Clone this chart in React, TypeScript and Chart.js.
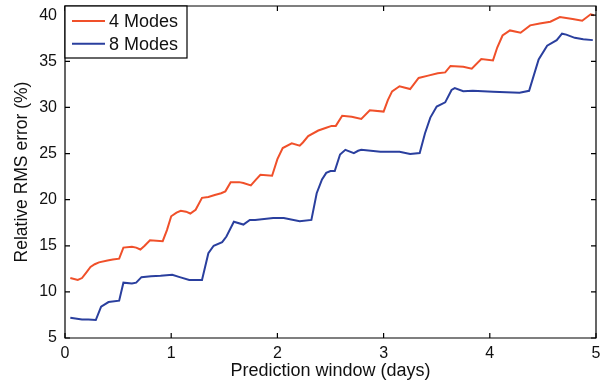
import React, { useEffect, useRef } from "react";
import { Chart, registerables } from "chart.js";

Chart.register(...registerables);

const seriesLabels = ["4 Modes", "8 Modes"];

const days4 = [0.05, 0.12, 0.16, 0.2, 0.24, 0.28, 0.32, 0.4, 0.45, 0.51, 0.55, 0.63, 0.67, 0.71, 0.75, 0.8, 0.92, 0.96, 1.0, 1.05, 1.09, 1.14, 1.18, 1.23, 1.29, 1.35, 1.41, 1.47, 1.51, 1.56, 1.64, 1.68, 1.75, 1.8, 1.84, 1.95, 2.0, 2.05, 2.135, 2.21, 2.24, 2.29, 2.385, 2.46, 2.51, 2.55, 2.61, 2.7, 2.79, 2.87, 3.0, 3.04, 3.08, 3.15, 3.25, 3.33, 3.42, 3.51, 3.58, 3.63, 3.75, 3.83, 3.92, 4.03, 4.07, 4.12, 4.19, 4.29, 4.38, 4.47, 4.57, 4.66, 4.78, 4.87, 4.95, 4.98];
const err4 = [11.5, 11.3, 11.5, 12.1, 12.7, 13.0, 13.2, 13.4, 13.5, 13.6, 14.8, 14.9, 14.8, 14.6, 15.0, 15.6, 15.5, 16.7, 18.2, 18.6, 18.8, 18.7, 18.5, 18.9, 20.2, 20.3, 20.5, 20.7, 20.9, 21.9, 21.9, 21.8, 21.55, 22.2, 22.7, 22.6, 24.4, 25.6, 26.1, 25.85, 26.2, 26.9, 27.5, 27.8, 28.0, 28.0, 29.1, 29.0, 28.75, 29.7, 29.55, 30.8, 31.75, 32.3, 32.0, 33.2, 33.45, 33.7, 33.8, 34.5, 34.4, 34.2, 35.25, 35.1, 36.5, 37.8, 38.35, 38.1, 38.9, 39.1, 39.3, 39.8, 39.6, 39.4, 40.1, 40.0];

const days8 = [0.05, 0.16, 0.22, 0.29, 0.34, 0.41, 0.51, 0.55, 0.63, 0.67, 0.72, 0.81, 0.9, 1.01, 1.08, 1.17, 1.29, 1.35, 1.4, 1.48, 1.52, 1.59, 1.68, 1.74, 1.79, 1.96, 2.06, 2.21, 2.32, 2.37, 2.42, 2.46, 2.5, 2.54, 2.59, 2.64, 2.72, 2.76, 2.79, 2.97, 3.15, 3.25, 3.34, 3.39, 3.44, 3.5, 3.58, 3.64, 3.67, 3.75, 3.84, 4.03, 4.28, 4.37, 4.46, 4.54, 4.63, 4.68, 4.72, 4.8, 4.88, 4.97];
const err8 = [7.2, 7.0, 7.0, 6.95, 8.4, 8.9, 9.05, 11.0, 10.9, 11.0, 11.6, 11.7, 11.75, 11.85, 11.6, 11.3, 11.3, 14.2, 15.0, 15.4, 16.0, 17.6, 17.3, 17.8, 17.8, 18.0, 18.0, 17.65, 17.8, 20.7, 22.2, 22.9, 23.1, 23.1, 24.9, 25.4, 25.05, 25.3, 25.4, 25.2, 25.2, 24.95, 25.05, 27.2, 28.9, 30.1, 30.55, 31.9, 32.1, 31.75, 31.8, 31.7, 31.6, 31.8, 35.2, 36.7, 37.3, 38.0, 37.9, 37.55, 37.4, 37.3];

const xTicks = [0, 1, 2, 3, 4, 5];
const yTicks = [5, 10, 15, 20, 25, 30, 35, 40];

const RED = "#f0502a";
const BLUE = "#2a3f9e";
const FONT = "'Liberation Sans', Arial, Helvetica, sans-serif";

const framePlugin = {
  id: "frame",
  afterDraw(chart: any) {
    const { ctx, chartArea, scales } = chart;
    const { left, right, top, bottom } = chartArea;
    const xs = scales.x;
    const ys = scales.y;
    ctx.save();
    ctx.strokeStyle = "#000";
    ctx.lineWidth = 1.2;
    ctx.beginPath();
    ctx.rect(left, top, right - left, bottom - top);
    ctx.stroke();
    const tl = 5;
    ctx.beginPath();
    xs.ticks.forEach((t: any) => {
      const px = xs.getPixelForValue(t.value);
      ctx.moveTo(px, bottom);
      ctx.lineTo(px, bottom - tl);
      ctx.moveTo(px, top);
      ctx.lineTo(px, top + tl);
    });
    ys.ticks.forEach((t: any) => {
      const py = ys.getPixelForValue(t.value);
      ctx.moveTo(left, py);
      ctx.lineTo(left + tl, py);
      ctx.moveTo(right, py);
      ctx.lineTo(right - tl, py);
    });
    ctx.stroke();

    // legend box
    const bx = left;
    const by = top;
    const bw = 122;
    const bh = 52;
    ctx.fillStyle = "#fff";
    ctx.fillRect(bx, by, bw, bh);
    ctx.lineWidth = 1.2;
    ctx.strokeStyle = "#000";
    ctx.strokeRect(bx, by, bw, bh);
    ctx.font = `18px ${FONT}`;
    ctx.textBaseline = "middle";
    ctx.textAlign = "left";
    chart.data.datasets.forEach((ds: any, i: number) => {
      const cy = by + 15 + i * 22.7;
      ctx.strokeStyle = ds.borderColor;
      ctx.lineWidth = 2;
      ctx.beginPath();
      ctx.moveTo(bx + 7, cy);
      ctx.lineTo(bx + 40, cy);
      ctx.stroke();
      ctx.fillStyle = "#111";
      ctx.fillText(ds.label, bx + 44, cy + 1);
    });
    ctx.restore();
  },
};

export default function App() {
  const ref = useRef<HTMLCanvasElement | null>(null);
  useEffect(() => {
    const canvas = ref.current!;
    const chart = new Chart(canvas, {
      type: "line",
      data: {
        datasets: [
          {
            label: seriesLabels[0],
            data: days4.map((d, i) => ({ x: d, y: err4[i] })),
            borderColor: RED,
            borderWidth: 2,
            pointRadius: 0,
            tension: 0,
            fill: false,
          },
          {
            label: seriesLabels[1],
            data: days8.map((d, i) => ({ x: d, y: err8[i] })),
            borderColor: BLUE,
            borderWidth: 2,
            pointRadius: 0,
            tension: 0,
            fill: false,
          },
        ],
      },
      options: {
        animation: false,
        responsive: false,
        devicePixelRatio: 1,
        layout: { padding: { top: 6, right: 12, left: 0, bottom: 0 } },
        plugins: { legend: { display: false }, tooltip: { enabled: false } },
        scales: {
          x: {
            type: "linear",
            min: 0,
            max: 5,
            afterBuildTicks: (s: any) => {
              s.ticks = xTicks.map((v) => ({ value: v }));
            },
            afterFit: (s: any) => {
              s.height = 48;
              s.paddingLeft = 0;
              s.paddingRight = 0;
            },
            grid: { display: false, drawTicks: false },
            border: { display: false },
            ticks: {
              color: "#111",
              padding: 6,
              maxRotation: 0,
              font: { family: FONT, size: 16 },
            },
            title: {
              display: true,
              text: "Prediction window (days)",
              color: "#111",
              font: { family: FONT, size: 18 },
              padding: { top: 0, bottom: 4 },
            },
          },
          y: {
            type: "linear",
            min: 5,
            max: 41,
            afterBuildTicks: (s: any) => {
              s.ticks = yTicks.map((v) => ({ value: v }));
            },
            afterFit: (s: any) => {
              s.width = 65;
              s.paddingTop = 0;
              s.paddingBottom = 0;
            },
            grid: { display: false, drawTicks: false },
            border: { display: false },
            ticks: {
              color: "#111",
              padding: 8,
              font: { family: FONT, size: 16 },
            },
            title: {
              display: true,
              text: "Relative RMS error (%)",
              color: "#111",
              font: { family: FONT, size: 17.5 },
              padding: { top: 11.5, bottom: 0 },
            },
          },
        },
      },
      plugins: [framePlugin],
    });
    return () => chart.destroy();
  }, []);
  return (
    <div style={{ position: "fixed", left: 0, top: 0, width: 608, height: 386, background: "#fff" }}>
      <canvas ref={ref} width={608} height={386} style={{ display: "block" }} />
    </div>
  );
}
